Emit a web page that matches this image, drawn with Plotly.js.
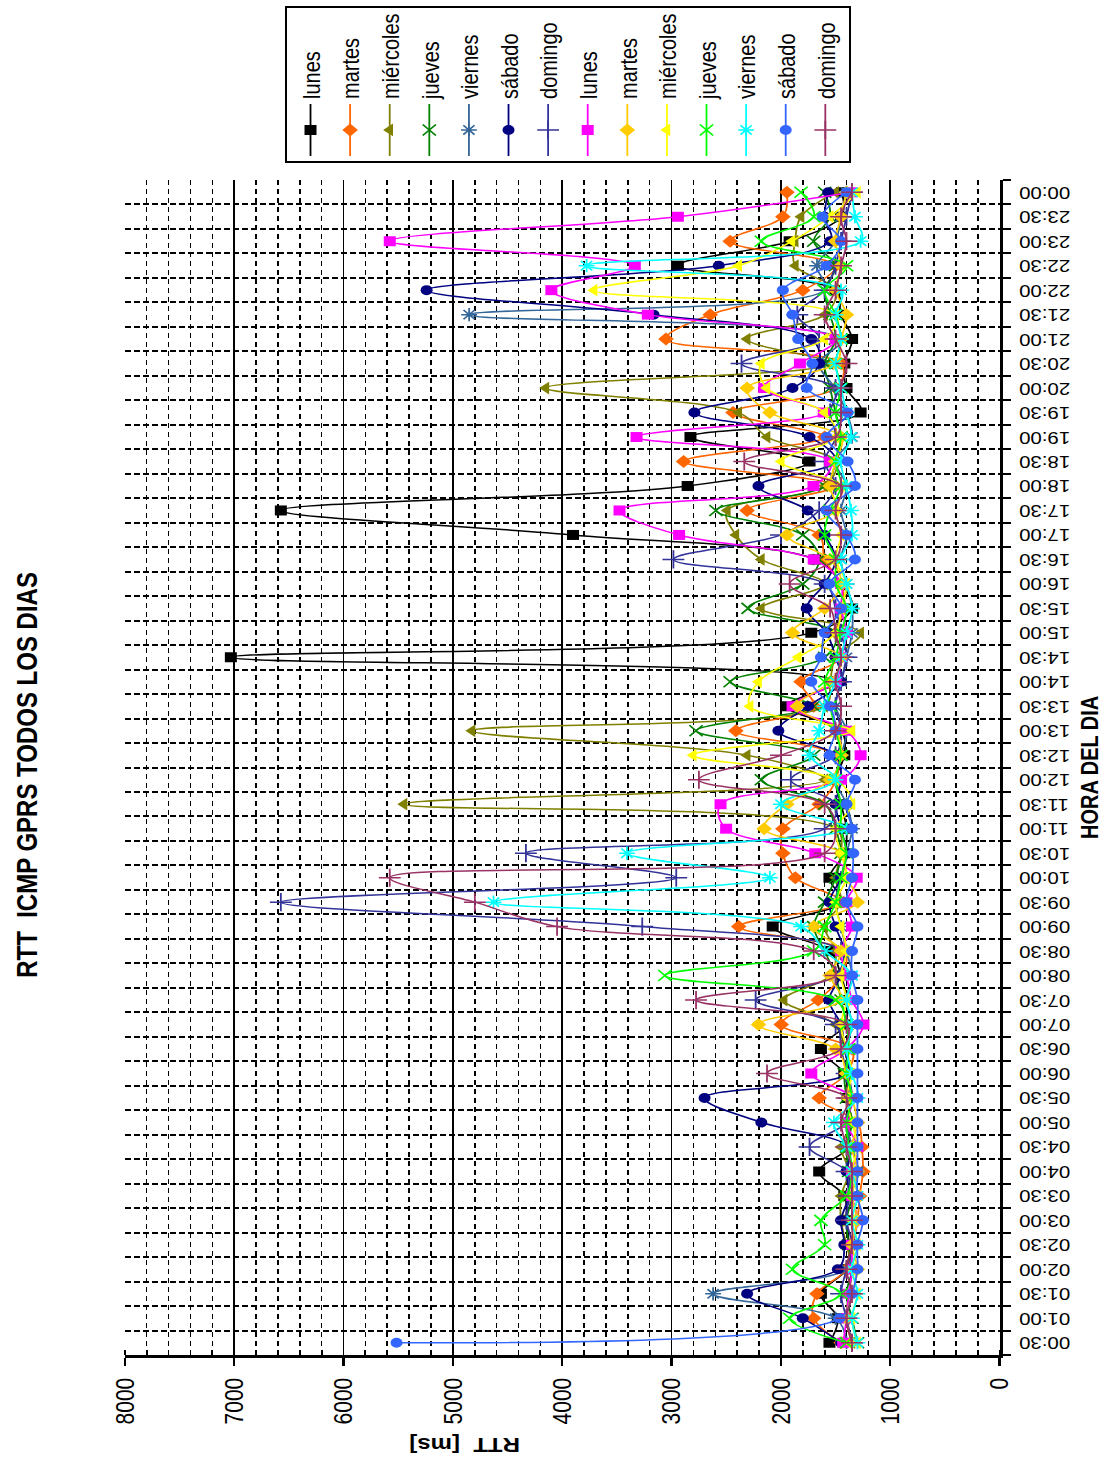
<!DOCTYPE html>
<html>
<head>
<meta charset="utf-8">
<script src="https://cdn.plot.ly/plotly-3.0.1.min.js"></script>
<style>
  html, body { margin: 0; padding: 0; background: #fff; overflow: hidden; }
  body { width: 1110px; height: 1466px; position: relative; }
  /* the chart is laid out landscape and turned a quarter turn to stand upright on the page */
  #chart {
    position: absolute; left: 0; top: 0;
    width: 1466px; height: 925px;
    transform-origin: 0 0;
    transform: translateY(1466px) rotate(-90deg) scaleY(1.2);
  }
</style>
</head>
<body>
<div id="chart"></div>
<script>
// Half-hour slots of the day
const horas = ["00:30","01:00","01:30","02:00","02:30","03:00","03:30","04:00","04:30","05:00",
  "05:30","06:00","06:30","07:00","07:30","08:00","08:30","09:00","09:30","10:00",
  "10:30","11:00","11:30","12:00","12:30","13:00","13:30","14:00","14:30","15:00",
  "15:30","16:00","16:30","17:00","17:30","18:00","18:30","19:00","19:30","20:00",
  "20:30","21:00","21:30","22:00","22:30","23:00","23:30","00:00"];

// RTT [ms] per half hour, first week
const lunes1 = [1556,1480,1634,1400,1380,1400,1420,1650,1380,1400,1390,1420,1634,1410,1400,1450,1556,2075,1450,1556,
  1420,1400,1450,1500,1420,1450,1945,1500,7030,1722,1349,1450,1686,3901,6573,2853,1738,2827,1271,1400,
  1420,1349,1453,1500,2942,1920,1450,1442];
const martes1 = [1450,1700,1670,1400,1350,1300,1280,1250,1260,1300,1650,1400,1350,1997,1660,1450,1420,2386,1450,1868,
  1982,1982,1650,1500,1500,2412,1700,1816,1450,1500,1420,1450,1600,1650,2309,1500,2890,1600,2438,1500,
  1450,3051,2646,1800,1500,2464,1982,1945];
const miercoles1 = [1350,1400,1380,1350,1400,1450,1450,1380,1450,1350,1400,1380,1420,1500,1971,1550,1500,1600,1450,1500,
  1450,1500,5447,1600,2309,4825,1600,1550,1500,1271,2179,1600,2179,2412,2490,1600,1500,2127,2386,4150,
  1550,2309,1600,1500,1868,1870,1816,1500];
const jueves1 = [1300,1350,1400,1350,1380,1400,1350,1380,1400,1350,1400,1420,1380,1400,1450,1500,1600,1700,1600,1500,
  1450,1500,1600,2179,1700,2776,1700,2464,1600,1500,2300,1800,1650,1800,2594,1600,1500,1450,1500,1550,
  1600,1500,1550,1600,1500,1700,1550,1600];
const viernes1 = [1400,1500,2620,1400,1350,1300,1350,1300,1350,1400,1350,1380,1400,1350,1400,1350,1400,1450,1500,1450,
  1400,1350,1400,1500,1450,1400,1500,1450,1400,1350,1349,1400,1450,1400,1450,1400,1500,1350,1400,1505,
  1650,1450,4851,1600,1670,1500,1450,1400];
const sabado1 = [1450,1800,2309,1479,1420,1450,1380,1400,1380,2179,2698,1400,1420,1450,1560,1450,1420,1500,1556,1450,
  1400,1450,1500,1450,1500,2023,1750,1450,1500,1582,1764,1600,1500,1600,1754,2205,1500,1738,2791,1894,
  1650,1722,3165,5240,2568,1550,1600,1567];
const domingo1 = [1350,1400,1450,1400,1350,1400,1380,1400,1738,1400,1380,1400,1450,1500,2231,1500,1450,3268,6573,2957,
  4332,1600,1500,1909,1500,1450,1500,1450,1400,1450,1500,1600,2983,2000,1650,1500,1600,1500,1550,1500,
  2360,1650,1850,1600,1500,1450,1400,1350];

// RTT [ms] per half hour, second week
const lunes2 = [1430,1400,1380,1350,1350,1300,1350,1350,1300,1400,1350,1722,1400,1245,1350,1400,1450,1350,1400,1307,
  1686,2501,2552,1450,1271,1400,1894,1500,1450,1400,1450,1450,1700,2931,3476,1702,1550,3320,1608,2153,
  1826,1500,3217,4099,3336,5577,2942,1350];
const martes2 = [1350,1400,1350,1300,1350,1300,1350,1300,1350,1300,1350,1400,1500,2205,1450,1550,1450,1700,1300,1400,
  1450,2153,1945,1550,1450,1500,1850,1550,1450,1894,1600,1450,1550,1945,1500,1550,1500,1450,2101,2309,
  1500,1450,1400,1500,1450,1500,1450,1400];
const miercoles2 = [1300,1350,1300,1350,1300,1350,1300,1350,1300,1350,1400,1350,1400,1450,1400,1450,1400,1450,1500,1400,
  1450,1500,1350,1500,2802,1350,2283,2205,1842,1500,1450,1400,1500,1450,1500,1450,1997,1500,1600,2130,
  2179,1600,1500,3709,2386,1900,1550,1300];
const jueves2 = [1400,1920,1450,1894,1600,1634,1400,1350,1380,1400,1350,1400,1380,1400,1500,3061,1700,1600,1500,1450,
  1400,1450,1450,1500,1450,1500,1550,1600,1500,1450,1400,1500,1500,1600,1550,1450,1500,1450,1500,1450,
  1500,1450,1500,1600,1400,2179,1700,1816];
const viernes2 = [1300,1350,1300,1350,1300,1350,1300,1350,1400,1515,1300,1350,1400,1350,1400,1350,1600,1816,4628,2101,
  3408,1400,2000,1500,1738,1650,1600,1500,1450,1400,1349,1400,1450,1350,1359,1400,1450,1359,1400,1450,
  1500,1450,1500,1450,3777,1271,1323,1350];
const sabado2 = [5515,1463,1350,1300,1300,1250,1300,1300,1300,1300,1300,1300,1300,1300,1300,1349,1349,1300,1400,1350,
  1338,1350,1400,1323,1556,1500,1550,1722,1634,1600,1450,1556,1323,1400,1582,1323,1390,1582,1390,1764,
  1712,1842,1894,1982,1582,1450,1619,1400];
const domingo2 = [1350,1400,1350,1400,1350,1350,1350,1350,1400,1450,1400,2127,1450,1400,2776,1500,1700,4047,4799,5577,
  1600,1500,1600,2750,2000,1500,1450,1500,1450,1500,1550,1920,1500,1450,1500,1450,2335,1500,1450,1450,
  1400,1500,1600,1500,1450,1400,1450,1350];

const nombres = ["lunes","martes","miércoles","jueves","viernes","sábado","domingo",
                 "lunes","martes","miércoles","jueves","viernes","sábado","domingo"];
const valores = [lunes1, martes1, miercoles1, jueves1, viernes1, sabado1, domingo1,
                 lunes2, martes2, miercoles2, jueves2, viernes2, sabado2, domingo2];

// line colour and marker of each series
const colores = ["#000000","#FF6600","#808000","#008000","#336699","#000080","#333399",
                 "#FF00FF","#FFCC00","#FFFF00","#00FF00","#00FFFF","#3366FF","#993366"];
const simbolos = ["square","diamond","triangle-up","x-thin-open","asterisk-open","circle","cross-thin-open",
                  "square","diamond","triangle-up","x-thin-open","asterisk-open","circle","cross-thin-open"];
const tallas = [10,10,11,11,11,10,13,10,10,11,11,11,10,13];

const fam = '"Liberation Sans", Arial, sans-serif';

const traces = valores.map((v, k) => ({
  type: "scatter",
  mode: "lines+markers",
  name: nombres[k],
  legendgroup: "s" + k,
  x: horas,
  y: v,
  line: { color: colores[k], width: 1.5, shape: "spline", smoothing: 1 },
  marker: {
    symbol: simbolos[k],
    size: tallas[k],
    color: colores[k],
    line: { color: colores[k], width: simbolos[k].endsWith("-open") ? 1.5 : 0 }
  }
}));

const layout = {
  width: 1466,
  height: 925,
  margin: { l: 111, r: 180, t: 104, b: 92, autoexpand: false },
  paper_bgcolor: "#fff",
  plot_bgcolor: "#fff",
  font: { family: fam, color: "#000", size: 17 },
  showlegend: true,
  title: {
    text: "<b>RTT\u00a0 ICMP GPRS TODOS LOS DIAS</b>",
    font: { family: fam, size: 24, color: "#000" },
    xref: "container", yref: "container",
    x: 0.4714, y: 0.9757, xanchor: "center", yanchor: "middle"
  },
  xaxis: {
    type: "category",
    range: [-0.5, 47.5],
    tickson: "boundaries",
    showgrid: true,
    gridcolor: "#000",
    gridwidth: 2,
    griddash: "5px,2.5px",
    showline: true,
    linecolor: "#000",
    linewidth: 2.5,
    ticks: "outside",
    ticklen: 7,
    tickwidth: 2,
    tickcolor: "#000",
    tickangle: -90,
    ticklabelstandoff: 7,
    tickfont: { family: fam, size: 17, color: "#000" },
    zeroline: false,
    fixedrange: true
  },
  yaxis: {
    range: [0, 8000],
    dtick: 1000,
    tick0: 0,
    showgrid: true,
    gridcolor: "#000",
    gridwidth: 1.3,
    showline: true,
    linecolor: "#000",
    linewidth: 2.5,
    ticks: "outside",
    ticklen: 8,
    tickwidth: 2,
    tickcolor: "#000",
    ticklabelstandoff: 8,
    tickfont: { family: fam, size: 21, color: "#000" },
    zeroline: false,
    minor: {
      dtick: 200,
      showgrid: true,
      gridcolor: "#000",
      gridwidth: 1.3,
      griddash: "5px,4px",
      ticks: "inside",
      ticklen: 5,
      tickwidth: 1.5,
      tickcolor: "#000"
    },
    fixedrange: true
  },
  legend: {
    xref: "paper", yref: "paper",
    x: 1.0145, y: 0.8172, xanchor: "left", yanchor: "top",
    bgcolor: "#fff",
    bordercolor: "#000",
    borderwidth: 2,
    font: { family: fam, size: 20, color: "#000" },
    tracegroupgap: 4,
    itemwidth: 52
  },
  annotations: [
    {
      text: "<b>RTT  [ms]</b>",
      xref: "paper", yref: "paper",
      x: -0.0766, y: 0.6114, xanchor: "center", yanchor: "middle",
      textangle: -90, showarrow: false,
      font: { family: fam, size: 20, color: "#000" }
    },
    {
      text: "<b>HORA DEL DIA</b>",
      xref: "paper", yref: "paper",
      x: 0.5004, y: -0.1025, xanchor: "center", yanchor: "middle",
      showarrow: false,
      font: { family: fam, size: 20, color: "#000" }
    }
  ]
};

Plotly.newPlot("chart", traces, layout, { displayModeBar: false, staticPlot: true });
</script>
</body>
</html>
